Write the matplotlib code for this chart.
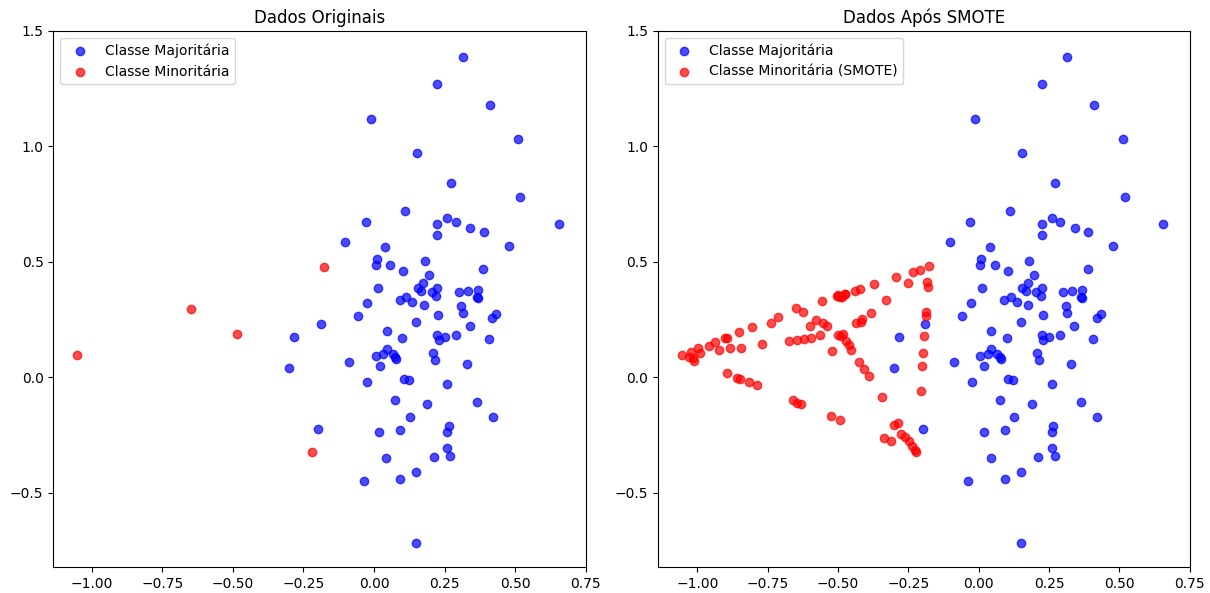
import matplotlib
matplotlib.use("Agg")
import matplotlib.pyplot as plt
import numpy as np

maj_x = [-0.012, 0.153, 0.110, 0.314, 0.224, 0.411, 0.512, 0.273, 0.519, -0.029,
         -0.101, 0.039, 0.010, 0.006, 0.058, 0.103, 0.013, 0.091, 0.115, 0.136,
         -0.026, -0.058, -0.189, 0.150, -0.284, 0.045, 0.101, 0.045, 0.032, 0.006,
         0.067, 0.079, 0.075, 0.020, -0.089, -0.300, 0.260, 0.225, 0.290, 0.342,
         0.390, 0.654, 0.224, 0.479, 0.180, 0.387, 0.195, 0.174, 0.155, 0.168,
         0.225, 0.204, 0.221, 0.300, 0.333, 0.369, 0.367, 0.365, 0.176, 0.310,
         0.314, 0.434, 0.419, 0.227, 0.340, 0.224, 0.250, 0.229, 0.289, 0.407,
         0.209, 0.216, 0.329, -0.023, 0.106, 0.123, 0.075, 0.127, -0.199, 0.018,
         0.094, 0.043, 0.150, -0.037, 0.094, 0.150, 0.260, 0.188, 0.364, 0.422,
         0.266, 0.259, 0.259, 0.271, 0.212]
maj_y = [1.116, 0.969, 0.720, 1.386, 1.271, 1.177, 1.032, 0.841, 0.780, 0.672,
         0.587, 0.562, 0.510, 0.486, 0.487, 0.461, 0.388, 0.336, 0.349, 0.327,
         0.319, 0.264, 0.229, 0.240, 0.173, 0.200, 0.168, 0.123, 0.101, 0.090,
         0.099, 0.080, 0.088, 0.049, 0.065, 0.040, 0.691, 0.664, 0.672, 0.646,
         0.627, 0.664, 0.616, 0.567, 0.504, 0.468, 0.443, 0.409, 0.386, 0.374,
         0.386, 0.370, 0.352, 0.370, 0.373, 0.378, 0.342, 0.347, 0.313, 0.306,
         0.277, 0.275, 0.255, 0.270, 0.220, 0.183, 0.174, 0.160, 0.181, 0.164,
         0.103, 0.074, 0.057, -0.023, -0.010, -0.014, -0.099, -0.174, -0.226, -0.239,
         -0.230, -0.351, -0.409, -0.452, -0.443, -0.717, -0.028, -0.116, -0.107, -0.174,
         -0.213, -0.236, -0.306, -0.342, -0.347]

min_x = [-1.051, -0.648, -0.485, -0.177, -0.221]
min_y = [0.096, 0.296, 0.186, 0.478, -0.323]

smote_x = [-1.055, -1.024, -1.016, -1.028, -0.996, -0.990, -1.010, -0.960, -0.938, -0.924,
           -0.903, -0.895, -0.882, -0.852, -0.845, -0.806, -0.770, -0.737, -0.712, -0.648,
           -0.624, -0.601, -0.673, -0.646, -0.620, -0.596, -0.893, -0.859, -0.848, -0.816,
           -0.787, -0.659, -0.646, -0.632,
           -0.176, -0.209, -0.234, -0.292, -0.250, -0.372, -0.182, -0.180, -0.423, -0.441,
           -0.474, -0.504, -0.493, -0.500, -0.486, -0.474, -0.556, -0.329, -0.384, -0.187,
           -0.187, -0.579, -0.416, -0.418, -0.435, -0.552, -0.539, -0.565, -0.501, -0.481,
           -0.490, -0.470, -0.460, -0.452, -0.521, -0.425, -0.407, -0.389, -0.194, -0.198,
           -0.202, -0.206, -0.344, -0.524, -0.492, -0.301, -0.285, -0.277, -0.260, -0.248,
           -0.236, -0.227, -0.221, -0.337, -0.310]
smote_y = [0.097, 0.109, 0.081, 0.087, 0.125, 0.106, 0.070, 0.136, 0.152, 0.116,
           0.168, 0.168, 0.125, 0.196, 0.127, 0.217, 0.142, 0.235, 0.261, 0.299,
           0.284, 0.220, 0.155, 0.160, 0.165, 0.168, 0.017, -0.003, -0.009, -0.023,
           -0.036, -0.101, -0.112, -0.116,
           0.480, 0.464, 0.455, 0.435, 0.407, 0.403, 0.410, 0.391, 0.381, 0.374,
           0.362, 0.352, 0.345, 0.355, 0.345, 0.358, 0.330, 0.336, 0.278, 0.283,
           0.265, 0.249, 0.252, 0.240, 0.233, 0.233, 0.220, 0.181, 0.183, 0.188,
           0.180, 0.157, 0.138, 0.119, 0.113, 0.067, 0.036, 0.004, 0.177, 0.103,
           0.048, -0.062, -0.087, -0.167, -0.186, -0.207, -0.199, -0.245, -0.261, -0.278,
           -0.297, -0.317, -0.326, -0.265, -0.278]

fig = plt.figure(figsize=(12.1, 5.93), dpi=100)
ax1 = fig.add_axes([0.044, 0.044, 0.440, 0.904])
ax2 = fig.add_axes([0.5436, 0.044, 0.4396, 0.904])

ax1.scatter(maj_x, maj_y, c='blue', alpha=0.7, label='Classe Majoritária')
ax1.scatter(min_x, min_y, c='red', alpha=0.7, label='Classe Minoritária')
ax1.set_title('Dados Originais')
ax1.legend(loc='upper left')

ax2.scatter(maj_x, maj_y, c='blue', alpha=0.7, label='Classe Majoritária')
ax2.scatter(smote_x, smote_y, c='red', alpha=0.7, label='Classe Minoritária (SMOTE)')
ax2.set_title('Dados Após SMOTE')
ax2.legend(loc='upper left')

for ax in (ax1, ax2):
    ax.set_xticks([-1.0, -0.75, -0.5, -0.25, 0.0, 0.25, 0.5, 0.75])
    ax.set_yticks([-0.5, 0.0, 0.5, 1.0, 1.5])

fig.savefig('out.png', dpi=100)
